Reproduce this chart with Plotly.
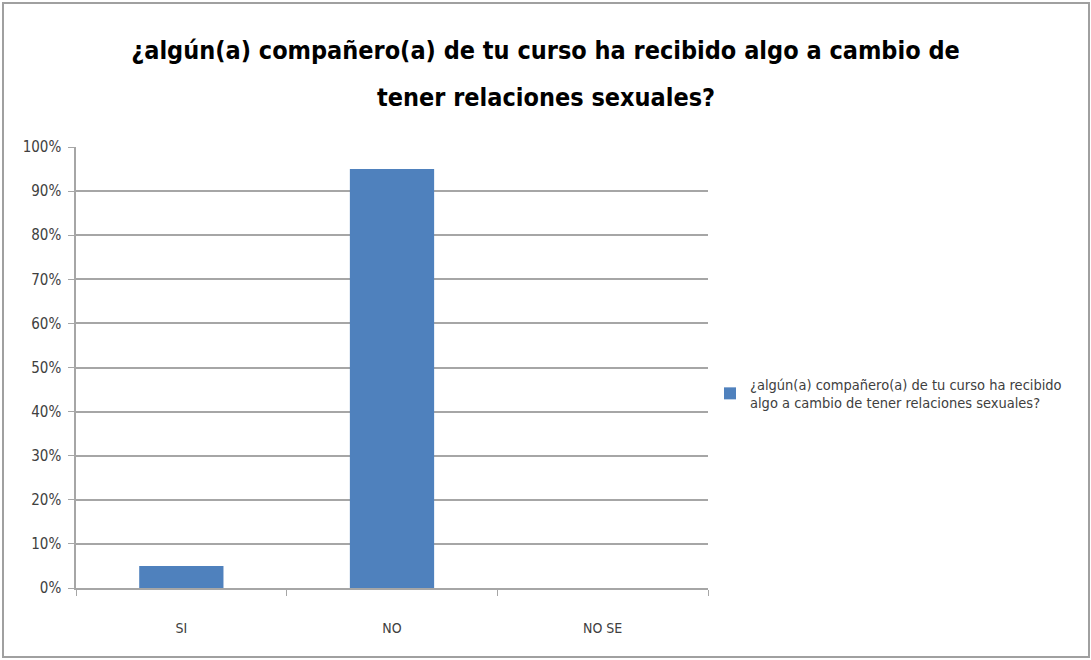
import plotly.graph_objects as go

categories = ["SI", "NO", "NO SE"]
values = [0.05, 0.95, 0.0]
series_name = "¿algún(a) compañero(a) de tu curso ha recibido<br>algo a cambio de tener relaciones sexuales?"
title_line1 = "¿algún(a) compañero(a) de tu curso ha recibido algo a cambio de"
title_line2 = "tener relaciones sexuales?"
y_ticks = [0, 0.1, 0.2, 0.3, 0.4, 0.5, 0.6, 0.7, 0.8, 0.9, 1.0]

W, H = 1091, 660
L, R, T, B = 76, 383, 147, 72
pw, ph = W - L - R, H - T - B

def px_x(p):
    return (p - L) / pw

def px_y(p):
    return 1 - (p - T) / ph

font_family = "DejaVu Sans Condensed, Liberation Sans Narrow, Arial Narrow, sans-serif"

fig = go.Figure()
fig.add_trace(go.Bar(
    x=categories, y=values, name=series_name,
    marker=dict(color="#4F81BD", line=dict(width=0)),
    width=0.4, showlegend=True,
))

fig.update_layout(
    width=W, height=H,
    margin=dict(l=L, r=R, t=T, b=B, autoexpand=False),
    paper_bgcolor="white", plot_bgcolor="white",
    font=dict(family=font_family, size=14, color="#404040"),
    title=dict(
        text="<b>" + title_line1 + "</b>",
        x=0.5, xref="container", xanchor="center",
        y=1 - 50 / H, yref="container", yanchor="middle",
        font=dict(family=font_family, size=25, color="black"),
    ),
    showlegend=True,
    legend=dict(
        x=710 / W, xref="container", xanchor="left",
        y=1 - 368 / H, yref="container", yanchor="top",
        font=dict(family=font_family, size=14.5, color="#404040"),
        itemwidth=30, bgcolor="rgba(0,0,0,0)",
    ),
)

fig.add_annotation(
    text="<b>" + title_line2 + "</b>",
    xref="paper", yref="paper", x=px_x(545.5), y=px_y(97),
    xanchor="center", yanchor="middle", showarrow=False,
    font=dict(family=font_family, size=25, color="black"),
)

fig.update_xaxes(
    type="category", tickson="boundaries", ticks="outside", ticklen=6,
    tickcolor="#a6a6a6", showline=True, linecolor="#a6a6a6", linewidth=1.5,
    showgrid=False, tickfont=dict(size=14, color="#404040"),
    range=[-0.5, 2.5], ticklabelstandoff=26,
)
fig.update_yaxes(
    range=[0, 1.0], tickvals=y_ticks, tickformat=".0%",
    ticks="outside", ticklen=6, tickcolor="#a6a6a6",
    showline=True, linecolor="#a6a6a6", linewidth=1.5,
    showgrid=True, gridcolor="#a6a6a6", gridwidth=1.5,
    zeroline=False, tickfont=dict(size=15, color="#404040"),
    ticklabelstandoff=4,
)

fig.add_shape(
    type="rect", xref="paper", yref="paper",
    x0=px_x(3), x1=px_x(1089), y0=px_y(3), y1=px_y(657),
    line=dict(color="#a0a0a0", width=2), fillcolor="rgba(0,0,0,0)",
    layer="below",
)

fig.write_html("out.html", config={"displayModeBar": False},
               post_script="document.body.style.margin='0';")
